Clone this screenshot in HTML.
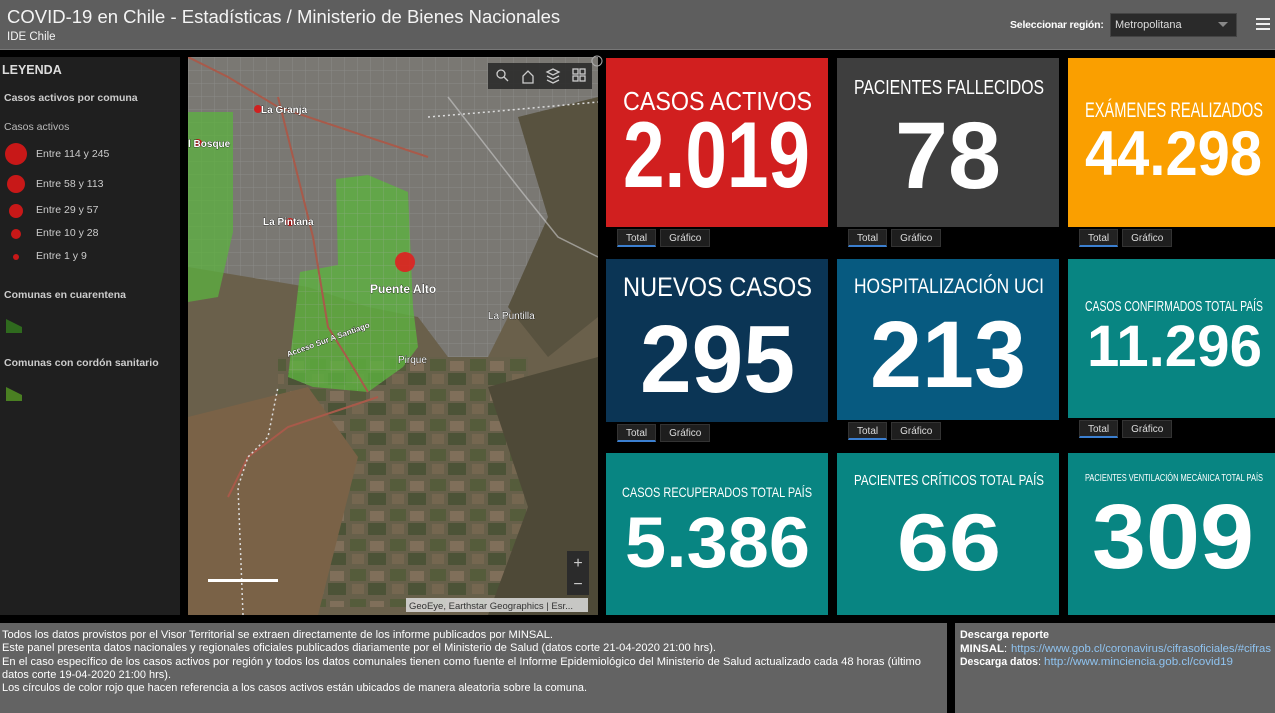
<!DOCTYPE html>
<html><head><meta charset="utf-8">
<style>
*{margin:0;padding:0;box-sizing:border-box}
body{width:1275px;height:713px;background:#000;position:relative;overflow:hidden;font-family:"Liberation Sans",sans-serif;color:#fff}
.abs{position:absolute}
.tabs{position:absolute;height:18px;display:flex;gap:4px}
.tab{height:18px;font-size:10px;color:#ddd;background:#1e1e1e;border:1px solid #333;padding:3px 8px 0;}
.tab.on{border-bottom:2px solid #3b7fd0;background:#222}
</style></head><body>
<div class="abs" style="left:0;top:0;width:1275px;height:50px;background:#5e5e5e;border-bottom:1px solid #777">
  <div class="abs" style="left:7px;top:6px;font-size:18.5px;color:#f4f4f4">COVID-19 en Chile - Estadísticas / Ministerio de Bienes Nacionales</div>
  <div class="abs" style="left:7px;top:31px;font-size:11.5px;color:#f4f4f4">IDE Chile</div>
  <div class="abs" style="left:1010px;top:19px;font-size:10.5px;font-weight:bold;letter-spacing:-0.2px">Seleccionar región:</div>
  <div class="abs" style="left:1110px;top:13px;width:127px;height:24px;background:#2a2a2a;border:1px solid #444;font-size:11px;padding:5px 4px;color:#ddd">Metropolitana<span style="position:absolute;right:8px;top:8px;width:0;height:0;border-left:5px solid transparent;border-right:5px solid transparent;border-top:5px solid #888"></span></div>
  <div class="abs" style="left:1256px;top:18px;width:14px;height:12px;border-top:2px solid #eee;border-bottom:2px solid #eee"><div style="margin-top:3px;height:2px;background:#eee"></div></div>
</div>

<div class="abs" style="left:0;top:57px;width:180px;height:558px;background:#1f1f1f">
  <div class="abs" style="left:2px;top:6px;font-size:12.5px;font-weight:bold;color:#ddd">LEYENDA</div>
  <div class="abs" style="left:4px;top:35px;font-size:10.5px;font-weight:bold;color:#ccc">Casos activos por comuna</div>
  <div class="abs" style="left:4px;top:64px;font-size:10.5px;color:#bbb">Casos activos</div>
  <div class="abs" style="left:5px;top:86px;width:22px;height:22px;border-radius:50%;background:#c81818"></div>
  <div class="abs" style="left:36px;top:91px;font-size:10.5px;color:#ccc">Entre 114 y 245</div>
  <div class="abs" style="left:7px;top:118px;width:18px;height:18px;border-radius:50%;background:#c81818"></div>
  <div class="abs" style="left:36px;top:121px;font-size:10.5px;color:#ccc">Entre 58 y 113</div>
  <div class="abs" style="left:9px;top:147px;width:14px;height:14px;border-radius:50%;background:#c81818"></div>
  <div class="abs" style="left:36px;top:147px;font-size:10.5px;color:#ccc">Entre 29 y 57</div>
  <div class="abs" style="left:11px;top:172px;width:10px;height:10px;border-radius:50%;background:#c81818"></div>
  <div class="abs" style="left:36px;top:170px;font-size:10.5px;color:#ccc">Entre 10 y 28</div>
  <div class="abs" style="left:13px;top:197px;width:6px;height:6px;border-radius:50%;background:#c81818"></div>
  <div class="abs" style="left:36px;top:193px;font-size:10.5px;color:#ccc">Entre 1 y 9</div>
  <div class="abs" style="left:4px;top:232px;font-size:10.5px;font-weight:bold;color:#ccc">Comunas en cuarentena</div>
  <svg class="abs" style="left:6px;top:262px" width="16" height="14"><path d="M0 0 L8 4 L16 8 V14 H0Z" fill="#2f6a1e"/></svg>
  <div class="abs" style="left:4px;top:300px;font-size:10.5px;font-weight:bold;color:#ccc">Comunas con cordón sanitario</div>
  <svg class="abs" style="left:6px;top:330px" width="16" height="14"><path d="M0 0 L8 4 L16 8 V14 H0Z" fill="#4a7f22"/></svg>
</div>

<svg class="abs" style="left:188px;top:57px" width="410" height="558">
  <defs><pattern id="grid" width="13" height="13" patternUnits="userSpaceOnUse"><path d="M0 0H13M0 0V13" stroke="#aaa" stroke-width="1" opacity=".35" fill="none"/></pattern>
  <pattern id="fields" width="40" height="30" patternUnits="userSpaceOnUse"><rect width="40" height="30" fill="#66604a"/><rect x="2" y="2" width="16" height="12" fill="#4c5a34"/><rect x="22" y="4" width="14" height="10" fill="#8a7660"/><rect x="4" y="17" width="12" height="10" fill="#7a6a52"/><rect x="20" y="16" width="18" height="12" fill="#3f4d2e"/></pattern></defs>
  <rect width="410" height="558" fill="#6a604b"/>
  <rect x="90" y="300" width="250" height="250" fill="url(#fields)" opacity=".7"/>
  <path d="M0 0H410V120L370 170 330 240 300 300 260 300 230 260 180 250 120 230 60 220 0 210Z" fill="#7a7873"/>
  <path d="M0 0H410V120L370 170 330 240 300 300 260 300 230 260 180 250 120 230 60 220 0 210Z" fill="url(#grid)"/>
  <path d="M330 60 L410 40 V260 L360 300 320 250 360 160Z" fill="#58523f"/>
  <path d="M300 330 L410 300 V558 H300 L340 450Z" fill="#4e4937"/>
  <path d="M0 360 L120 330 L170 400 L130 558 H0Z" fill="#7a6247"/>
  <path d="M148 122 L180 118 L220 135 L225 250 L230 290 L215 310 L180 335 L125 330 L100 320 L112 215 L150 208Z" fill="#5cb23f" opacity=".8"/>
  <path d="M148 122 L180 118 L220 135 L225 250 L230 290 L215 310 L180 335 L125 330 L100 320 L112 215 L150 208Z" fill="url(#grid)"/>
  <path d="M0 55 L45 55 L45 175 L30 240 L0 245Z" fill="#5cb23f" opacity=".75"/>
  <path d="M0 0 L40 20 L90 50 L240 100" stroke="#a85a4a" stroke-width="2" fill="none"/>
  <path d="M90 40 L125 180 L140 270 L165 310 L180 335" stroke="#a85a4a" stroke-width="2" fill="none"/>
  <path d="M40 440 L60 400 L100 370 L190 340" stroke="#a85a4a" stroke-width="2" fill="none"/>
  <path d="M260 40 L330 130 L370 180 L410 200" stroke="#ccc" stroke-width="1.5" fill="none" opacity=".6"/>
  <path d="M55 558 L50 430 L60 400 L80 380 L90 330" stroke="#ddd" stroke-width="1.5" stroke-dasharray="2 3" fill="none"/>
  <path d="M240 60 L300 55 L410 45" stroke="#ddd" stroke-width="1.5" stroke-dasharray="2 3" fill="none"/>
  <circle cx="217" cy="205" r="10" fill="#e02020" opacity=".9"/>
  <circle cx="70" cy="52" r="4" fill="#d02020"/><circle cx="10" cy="86" r="4" fill="#d02020"/><circle cx="102" cy="165" r="4" fill="#d02020"/>
  <g font-family="Liberation Sans,sans-serif" font-weight="bold" fill="#fff" stroke="#000" stroke-width=".6" paint-order="stroke" font-size="10">
    <text x="73" y="56">La Granja</text>
    <text x="0" y="90">l Bosque</text>
    <text x="75" y="168">La Pintana</text>
    <text x="182" y="236" font-size="12">Puente Alto</text>
    <text x="300" y="262" font-weight="normal">La Puntilla</text>
    <text x="210" y="306" font-weight="normal">Pirque</text>
    <text x="100" y="300" font-size="8" transform="rotate(-20 100 300)">Acceso Sur A Santiago</text>
  </g>
  <rect x="300" y="6" width="104" height="26" fill="#2b2b2b" opacity=".9"/>
  <g stroke="#ccc" fill="none" stroke-width="1.3"><circle cx="313" cy="17" r="4"/><path d="M316 20l4 4"/><path d="M335 26v-7l5-5 5 5v7z"/><path d="M359 15l6-3 6 3-6 3z M359 19l6 3 6-3 M359 23l6 3 6-3"/><rect x="385" y="12" width="5" height="5"/><rect x="392" y="12" width="5" height="5"/><rect x="385" y="19" width="5" height="5"/><rect x="392" y="19" width="5" height="5"/></g>
  <rect x="20" y="522" width="70" height="3" fill="#fff"/>
  <rect x="379" y="494" width="22" height="44" fill="#2b2b2b"/>
  <text x="390" y="511" text-anchor="middle" font-size="16" fill="#ccc" font-family="Liberation Sans">+</text>
  <text x="390" y="532" text-anchor="middle" font-size="16" fill="#ccc" font-family="Liberation Sans">−</text>
  <rect x="218" y="541" width="182" height="14" fill="#ddd" opacity=".85"/>
  <text x="221" y="552" font-size="9.5" fill="#333" font-family="Liberation Sans">GeoEye, Earthstar Geographics | Esr...</text>
</svg>

<svg class="abs" style="left:0;top:0" width="1275" height="615" font-family="Liberation Sans,sans-serif">
  <rect x="606" y="58" width="222" height="169" fill="#d11f1f"/>
  <rect x="837" y="58" width="222" height="169" fill="#3e3e3e"/>
  <rect x="1068" y="58" width="207" height="169" fill="#fa9f00"/>
  <rect x="606" y="259" width="222" height="163" fill="#0b3555"/>
  <rect x="837" y="259" width="222" height="161" fill="#075a80"/>
  <rect x="1068" y="259" width="207" height="159" fill="#088582"/>
  <rect x="606" y="453" width="222" height="162" fill="#088582"/>
  <rect x="837" y="453" width="222" height="162" fill="#088582"/>
  <rect x="1068" y="453" width="207" height="162" fill="#088582"/>
  <g fill="#fff">
    <text x="623" y="110" font-size="26" textLength="189" lengthAdjust="spacingAndGlyphs">CASOS ACTIVOS</text>
    <text x="623" y="187" font-size="94" font-weight="bold" textLength="187" lengthAdjust="spacingAndGlyphs">2.019</text>
    <text x="854" y="94" font-size="20" textLength="190" lengthAdjust="spacingAndGlyphs">PACIENTES FALLECIDOS</text>
    <text x="895" y="188" font-size="95" font-weight="bold" textLength="106" lengthAdjust="spacingAndGlyphs">78</text>
    <text x="1085" y="117" font-size="21" textLength="178" lengthAdjust="spacingAndGlyphs">EXÁMENES REALIZADOS</text>
    <text x="1085" y="175" font-size="63" font-weight="bold" textLength="177" lengthAdjust="spacingAndGlyphs">44.298</text>
    <text x="623" y="296" font-size="27" textLength="189" lengthAdjust="spacingAndGlyphs">NUEVOS CASOS</text>
    <text x="640" y="392" font-size="96" font-weight="bold" textLength="155" lengthAdjust="spacingAndGlyphs">295</text>
    <text x="854" y="293" font-size="21" textLength="190" lengthAdjust="spacingAndGlyphs">HOSPITALIZACIÓN UCI</text>
    <text x="870" y="387" font-size="95" font-weight="bold" textLength="156" lengthAdjust="spacingAndGlyphs">213</text>
    <text x="1085" y="311" font-size="15" textLength="178" lengthAdjust="spacingAndGlyphs">CASOS CONFIRMADOS TOTAL PAÍS</text>
    <text x="1087" y="366" font-size="58" font-weight="bold" textLength="175" lengthAdjust="spacingAndGlyphs">11.296</text>
    <text x="622" y="497" font-size="14" textLength="190" lengthAdjust="spacingAndGlyphs">CASOS RECUPERADOS TOTAL PAÍS</text>
    <text x="625" y="567" font-size="71" font-weight="bold" textLength="185" lengthAdjust="spacingAndGlyphs">5.386</text>
    <text x="854" y="485" font-size="15" textLength="190" lengthAdjust="spacingAndGlyphs">PACIENTES CRÍTICOS TOTAL PAÍS</text>
    <text x="897" y="570" font-size="81" font-weight="bold" textLength="104" lengthAdjust="spacingAndGlyphs">66</text>
    <text x="1085" y="481" font-size="10" textLength="178" lengthAdjust="spacingAndGlyphs">PACIENTES VENTILACIÓN MECÁNICA TOTAL PAÍS</text>
    <text x="1092" y="568" font-size="92" font-weight="bold" textLength="162" lengthAdjust="spacingAndGlyphs">309</text>
  </g>
  <circle cx="597" cy="61" r="5" fill="none" stroke="#aaa"/>
</svg>

<div class="tabs" style="left:617px;top:229px"><div class="tab on">Total</div><div class="tab">Gráfico</div></div>
<div class="tabs" style="left:848px;top:229px"><div class="tab on">Total</div><div class="tab">Gráfico</div></div>
<div class="tabs" style="left:1079px;top:229px"><div class="tab on">Total</div><div class="tab">Gráfico</div></div>
<div class="tabs" style="left:617px;top:424px"><div class="tab on">Total</div><div class="tab">Gráfico</div></div>
<div class="tabs" style="left:848px;top:422px"><div class="tab on">Total</div><div class="tab">Gráfico</div></div>
<div class="tabs" style="left:1079px;top:420px"><div class="tab on">Total</div><div class="tab">Gráfico</div></div>

<svg class="abs" style="left:0;top:623px" width="1275" height="90" font-family="Liberation Sans,sans-serif" font-size="11">
  <rect x="0" y="0" width="947" height="90" fill="#636363"/>
  <rect x="955" y="0" width="320" height="90" fill="#636363"/>
  <g fill="#fff">
    <text x="2" y="15" textLength="551" lengthAdjust="spacingAndGlyphs">Todos los datos provistos por el Visor Territorial se extraen directamente de los informe publicados por MINSAL.</text>
    <text x="2" y="28" textLength="714" lengthAdjust="spacingAndGlyphs">Este panel presenta datos nacionales y regionales oficiales publicados diariamente por el Ministerio de Salud (datos corte 21-04-2020 21:00 hrs).</text>
    <text x="2" y="42" textLength="919" lengthAdjust="spacingAndGlyphs">En el caso específico de los casos activos por región y todos los datos comunales tienen como fuente el Informe Epidemiológico del Ministerio de Salud actualizado cada 48 horas (último</text>
    <text x="2" y="55" textLength="169" lengthAdjust="spacingAndGlyphs">datos corte 19-04-2020 21:00 hrs).</text>
    <text x="2" y="68" textLength="585" lengthAdjust="spacingAndGlyphs">Los círculos de color rojo que hacen referencia a los casos activos están ubicados de manera aleatoria sobre la comuna.</text>
    <text x="960" y="15" font-weight="bold" textLength="89" lengthAdjust="spacingAndGlyphs">Descarga reporte</text>
    <text x="960" y="29" font-weight="bold" textLength="44" lengthAdjust="spacingAndGlyphs">MINSAL</text>
    <text x="1004" y="29">:</text>
    <text x="1011" y="29" fill="#8fc3f0" textLength="260" lengthAdjust="spacingAndGlyphs">https://www.gob.cl/coronavirus/cifrasoficiales/#cifras</text>
    <text x="960" y="42" font-weight="bold" textLength="78" lengthAdjust="spacingAndGlyphs">Descarga datos</text>
    <text x="1038" y="42">:</text>
    <text x="1044" y="42" fill="#8fc3f0" textLength="189" lengthAdjust="spacingAndGlyphs">http://www.minciencia.gob.cl/covid19</text>
  </g>
</svg>
</body></html>
